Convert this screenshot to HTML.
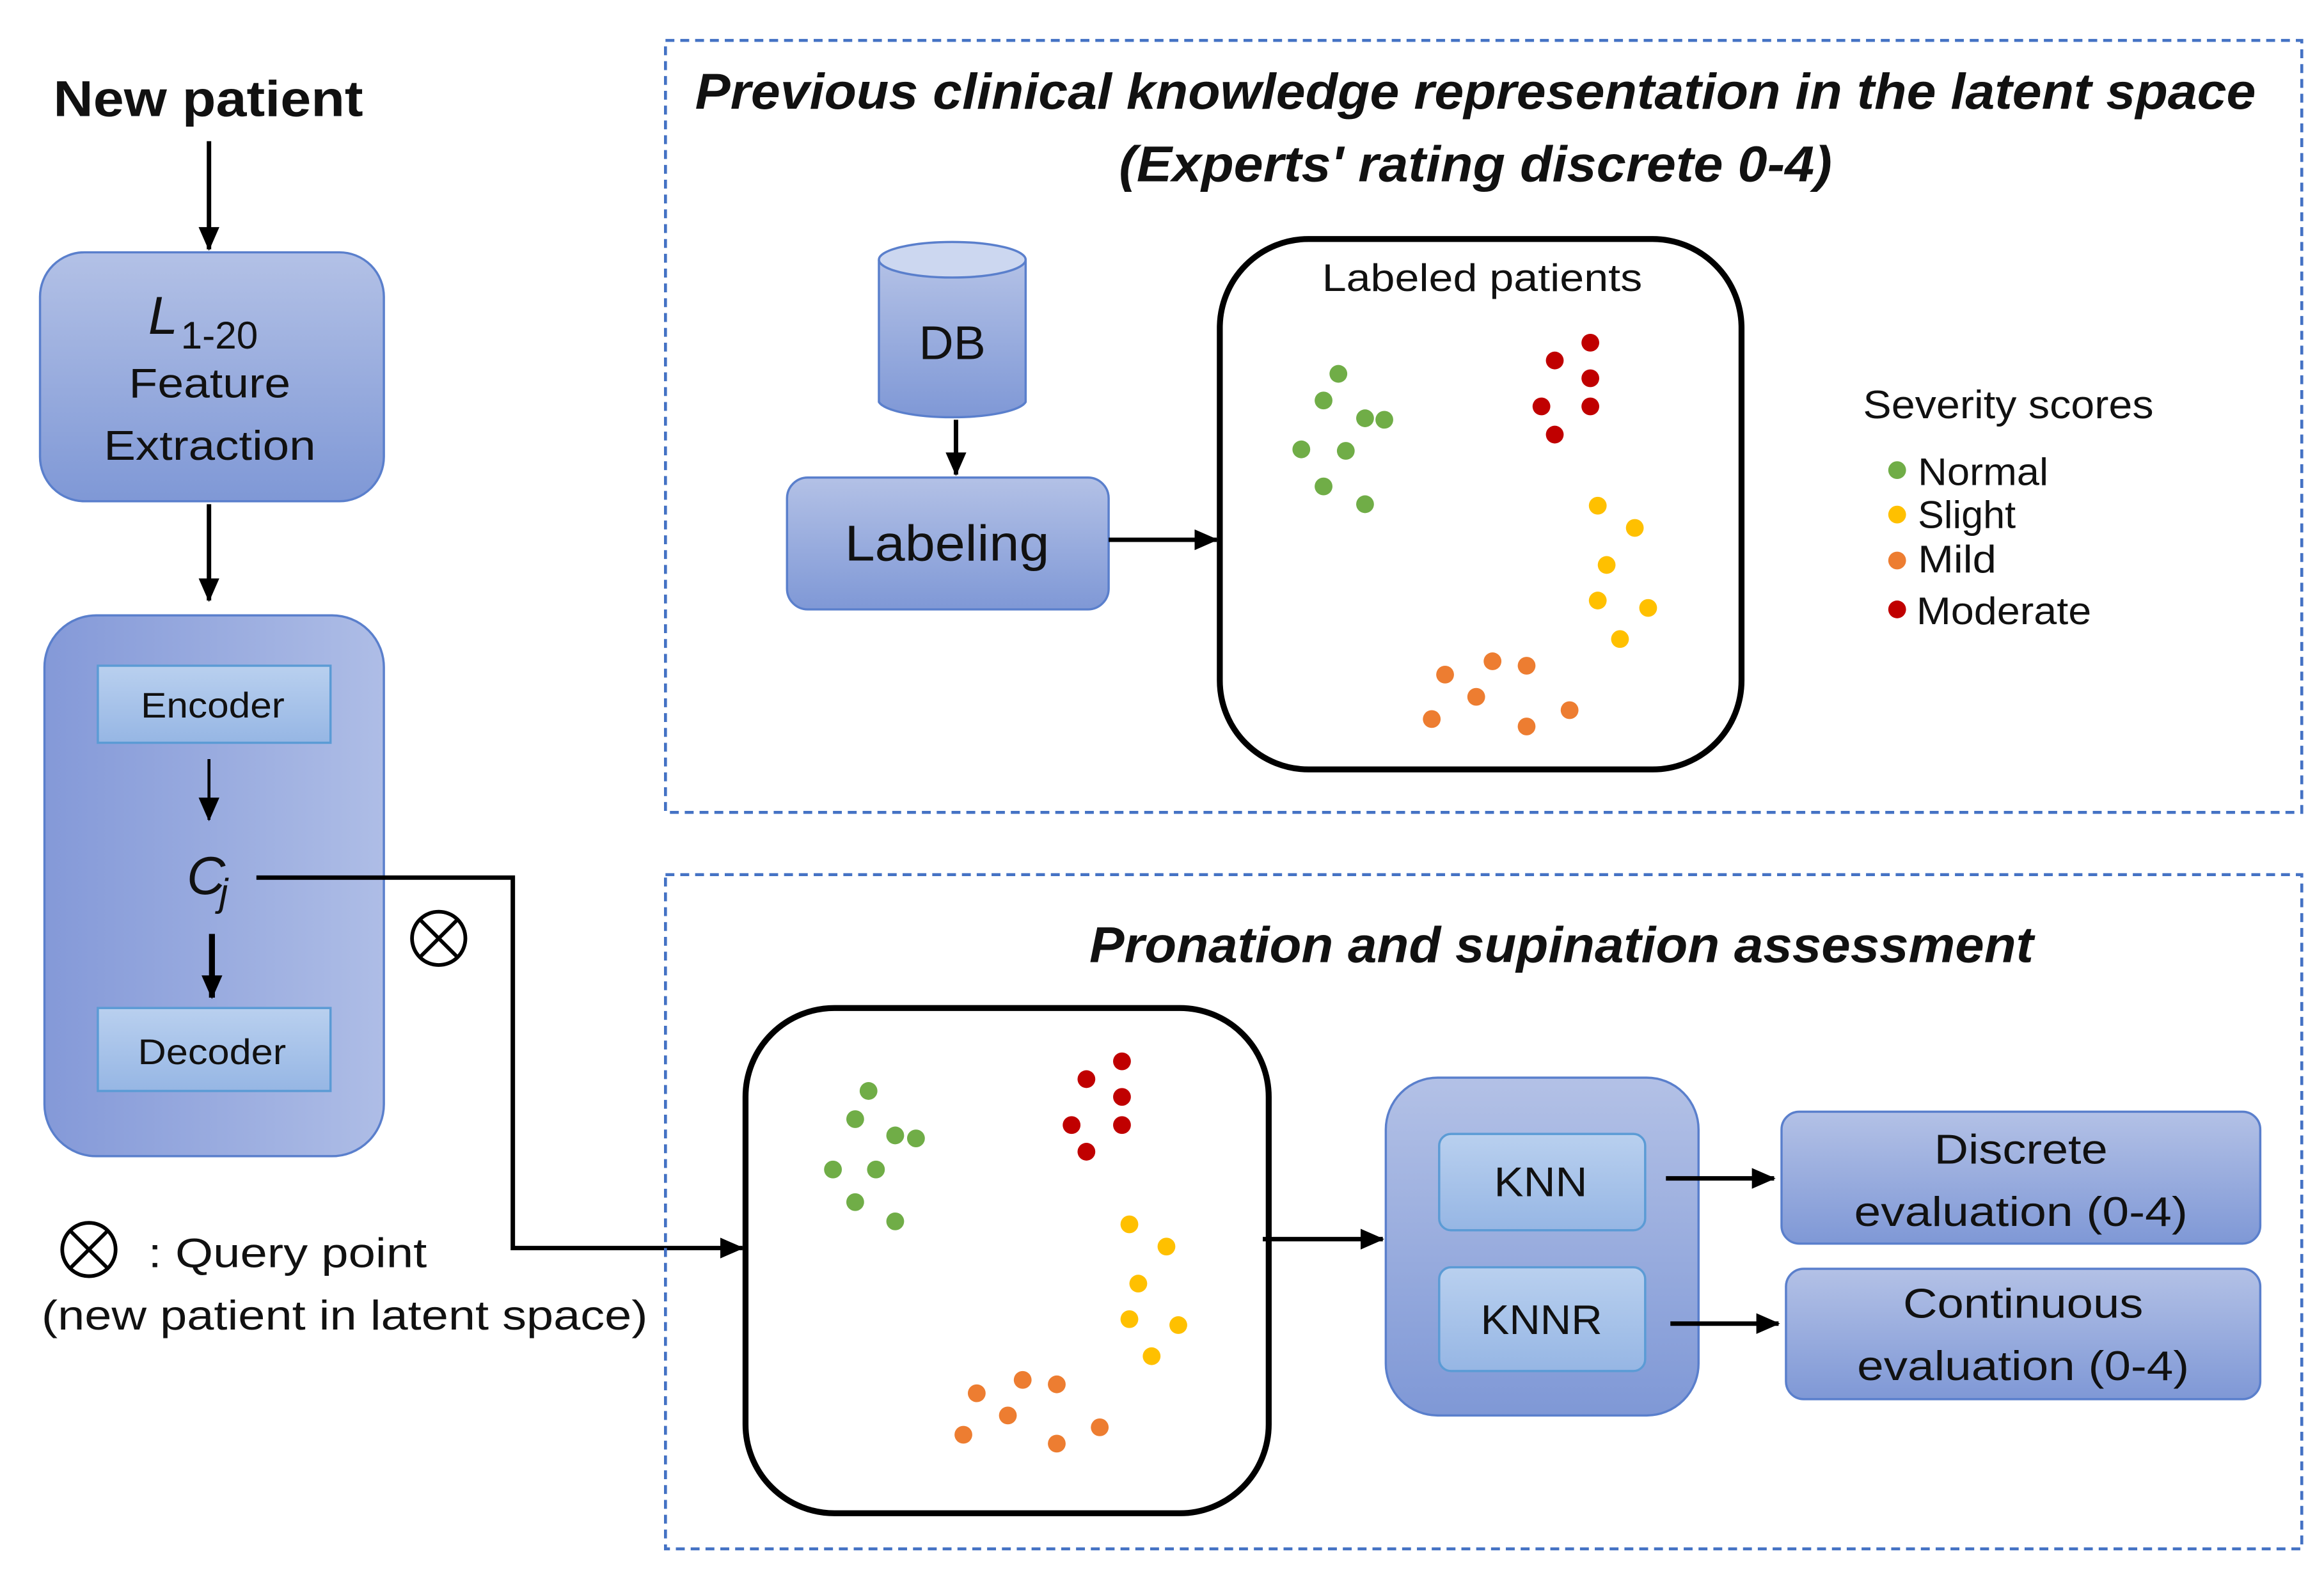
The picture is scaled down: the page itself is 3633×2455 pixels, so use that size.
<!DOCTYPE html>
<html><head><meta charset="utf-8"><style>
html,body{margin:0;padding:0;background:#fff;}
svg{display:block;}
text{font-family:"Liberation Sans","DejaVu Sans",sans-serif;fill:#111;}
</style></head><body>
<svg width="3633" height="2455" viewBox="0 0 1568 1059" xmlns="http://www.w3.org/2000/svg">
<defs>
<linearGradient id="g1" x1="0" y1="0" x2="0" y2="1"><stop offset="0" stop-color="#b3c1e6"/><stop offset="1" stop-color="#7f98d6"/></linearGradient>
<linearGradient id="g2" x1="0" y1="0" x2="1" y2="0"><stop offset="0" stop-color="#8499d8"/><stop offset="1" stop-color="#aebde6"/></linearGradient>
<linearGradient id="g3" x1="0" y1="0" x2="0" y2="1"><stop offset="0" stop-color="#b9d0ef"/><stop offset="1" stop-color="#96b6e4"/></linearGradient>
<marker id="ab" markerWidth="16" markerHeight="14" refX="15" refY="7" orient="auto" markerUnits="userSpaceOnUse"><path d="M0,0 L16,7 L0,14 z" fill="#000"/></marker>
</defs>

<text x="36" y="78" font-size="34" font-weight="bold" textLength="209" lengthAdjust="spacingAndGlyphs">New patient</text>
<line x1="141" y1="95" x2="141" y2="168" stroke="#000" stroke-width="3" marker-end="url(#ab)"/>
<rect x="27" y="170" width="232" height="168" rx="30" fill="url(#g1)" stroke="#5a7fcc" stroke-width="1.5"/>
<text x="100" y="225" font-size="36" font-style="italic" font-family="Liberation Serif,serif">L</text>
<text x="122" y="235" font-size="26" font-family="Liberation Serif,serif">1-20</text>
<text x="87" y="268" font-size="28" textLength="109" lengthAdjust="spacingAndGlyphs">Feature</text>
<text x="70" y="310" font-size="28" textLength="143" lengthAdjust="spacingAndGlyphs">Extraction</text>
<line x1="141" y1="340" x2="141" y2="405" stroke="#000" stroke-width="3" marker-end="url(#ab)"/>

<rect x="30" y="415" width="229" height="365" rx="35" fill="url(#g2)" stroke="#5a7fcc" stroke-width="1.5"/>
<rect x="66" y="449" width="157" height="52" fill="url(#g3)" stroke="#5b9bd5" stroke-width="1.5"/>
<text x="95" y="484" font-size="24" textLength="97" lengthAdjust="spacingAndGlyphs">Encoder</text>
<line x1="141" y1="512" x2="141" y2="553" stroke="#000" stroke-width="2" marker-end="url(#ab)"/>
<text x="126" y="603" font-size="36" font-style="italic" font-family="Liberation Serif,serif">C</text>
<text x="148" y="611" font-size="26" font-style="italic" font-family="Liberation Serif,serif">j</text>
<line x1="143" y1="630" x2="143" y2="673" stroke="#000" stroke-width="4" marker-end="url(#ab)"/>
<rect x="66" y="680" width="157" height="56" fill="url(#g3)" stroke="#5b9bd5" stroke-width="1.5"/>
<text x="93" y="718" font-size="24" textLength="100" lengthAdjust="spacingAndGlyphs">Decoder</text>

<polyline points="173,592 346,592 346,842 501,842" fill="none" stroke="#000" stroke-width="3" marker-end="url(#ab)"/>
<g stroke="#000" stroke-width="2.5" fill="none">
<circle cx="296" cy="633" r="18"/><line x1="283" y1="620" x2="309" y2="646"/><line x1="309" y1="620" x2="283" y2="646"/>
<circle cx="60" cy="843" r="18"/><line x1="47" y1="830" x2="73" y2="856"/><line x1="73" y1="830" x2="47" y2="856"/>
<circle cx="728" cy="833" r="18"/><line x1="715" y1="820" x2="741" y2="846"/><line x1="741" y1="820" x2="715" y2="846"/>
</g>
<text x="100" y="855" font-size="28" textLength="188" lengthAdjust="spacingAndGlyphs">: Query point</text>
<text x="28" y="897" font-size="28" textLength="409" lengthAdjust="spacingAndGlyphs">(new patient in latent space)</text>

<rect x="449" y="27" width="1104" height="521" fill="none" stroke="#4472c4" stroke-width="2" stroke-dasharray="6,4"/>
<text x="469" y="73" font-size="34" font-weight="bold" font-style="italic" textLength="1053" lengthAdjust="spacingAndGlyphs">Previous clinical knowledge representation in the latent space</text>
<text x="755" y="122" font-size="34" font-weight="bold" font-style="italic" textLength="481" lengthAdjust="spacingAndGlyphs">(Experts' rating discrete 0-4)</text>

<path d="M593,175 L593,271 A50,12 0 0 0 692,271 L692,175" fill="url(#g1)" stroke="#5a7fcc" stroke-width="1.5"/>
<ellipse cx="642.5" cy="175" rx="49.5" ry="12" fill="#ccd7f0" stroke="#5a7fcc" stroke-width="1.5"/>
<text x="620" y="242" font-size="32" textLength="45" lengthAdjust="spacingAndGlyphs">DB</text>
<line x1="645" y1="283" x2="645" y2="320" stroke="#000" stroke-width="3" marker-end="url(#ab)"/>
<rect x="531" y="322" width="217" height="89" rx="14" fill="url(#g1)" stroke="#5a7fcc" stroke-width="1.5"/>
<text x="570" y="378" font-size="34" textLength="138" lengthAdjust="spacingAndGlyphs">Labeling</text>
<line x1="748" y1="364" x2="821" y2="364" stroke="#000" stroke-width="3" marker-end="url(#ab)"/>

<rect x="823" y="161" width="352" height="358" rx="60" fill="#fff" stroke="#000" stroke-width="4"/>
<text x="892" y="196" font-size="26" textLength="216" lengthAdjust="spacingAndGlyphs">Labeled patients</text>
<g fill="#70ad47"><circle cx="903" cy="252" r="6"/><circle cx="893" cy="270" r="6"/><circle cx="921" cy="282" r="6"/><circle cx="934" cy="283" r="6"/><circle cx="878" cy="303" r="6"/><circle cx="908" cy="304" r="6"/><circle cx="893" cy="328" r="6"/><circle cx="921" cy="340" r="6"/></g>
<g fill="#c00000"><circle cx="1049" cy="243" r="6"/><circle cx="1073" cy="231" r="6"/><circle cx="1073" cy="255" r="6"/><circle cx="1040" cy="274" r="6"/><circle cx="1073" cy="274" r="6"/><circle cx="1049" cy="293" r="6"/></g>
<g fill="#ffc000"><circle cx="1078" cy="341" r="6"/><circle cx="1103" cy="356" r="6"/><circle cx="1084" cy="381" r="6"/><circle cx="1078" cy="405" r="6"/><circle cx="1112" cy="410" r="6"/><circle cx="1093" cy="431" r="6"/></g>
<g fill="#ed7d31"><circle cx="1007" cy="446" r="6"/><circle cx="1030" cy="449" r="6"/><circle cx="975" cy="455" r="6"/><circle cx="996" cy="470" r="6"/><circle cx="966" cy="485" r="6"/><circle cx="1030" cy="490" r="6"/><circle cx="1059" cy="479" r="6"/></g>

<text x="1257" y="282" font-size="27" textLength="196" lengthAdjust="spacingAndGlyphs">Severity scores</text>
<circle cx="1280" cy="317" r="6" fill="#70ad47"/><text x="1294" y="327" font-size="26" textLength="88" lengthAdjust="spacingAndGlyphs">Normal</text>
<circle cx="1280" cy="347" r="6" fill="#ffc000"/><text x="1294" y="356" font-size="26" textLength="66" lengthAdjust="spacingAndGlyphs">Slight</text>
<circle cx="1280" cy="378" r="6" fill="#ed7d31"/><text x="1294" y="386" font-size="26" textLength="53" lengthAdjust="spacingAndGlyphs">Mild</text>
<circle cx="1280" cy="411" r="6" fill="#c00000"/><text x="1293" y="421" font-size="26" textLength="118" lengthAdjust="spacingAndGlyphs">Moderate</text>

<rect x="449" y="590" width="1104" height="455" fill="none" stroke="#4472c4" stroke-width="2" stroke-dasharray="6,4"/>
<text x="735" y="649" font-size="34" font-weight="bold" font-style="italic" textLength="637" lengthAdjust="spacingAndGlyphs">Pronation and supination assessment</text>

<rect x="503" y="680" width="353" height="341" rx="60" fill="#fff" stroke="#000" stroke-width="4"/>
<g fill="#70ad47"><circle cx="586" cy="736" r="6"/><circle cx="577" cy="755" r="6"/><circle cx="604" cy="766" r="6"/><circle cx="618" cy="768" r="6"/><circle cx="562" cy="789" r="6"/><circle cx="591" cy="789" r="6"/><circle cx="577" cy="811" r="6"/><circle cx="604" cy="824" r="6"/></g>
<g fill="#c00000"><circle cx="733" cy="728" r="6"/><circle cx="757" cy="716" r="6"/><circle cx="757" cy="740" r="6"/><circle cx="723" cy="759" r="6"/><circle cx="757" cy="759" r="6"/><circle cx="733" cy="777" r="6"/></g>
<g fill="#ffc000"><circle cx="762" cy="826" r="6"/><circle cx="787" cy="841" r="6"/><circle cx="768" cy="866" r="6"/><circle cx="762" cy="890" r="6"/><circle cx="795" cy="894" r="6"/><circle cx="777" cy="915" r="6"/></g>
<g fill="#ed7d31"><circle cx="690" cy="931" r="6"/><circle cx="713" cy="934" r="6"/><circle cx="659" cy="940" r="6"/><circle cx="680" cy="955" r="6"/><circle cx="650" cy="968" r="6"/><circle cx="713" cy="974" r="6"/><circle cx="742" cy="963" r="6"/></g>

<line x1="852" y1="836" x2="933" y2="836" stroke="#000" stroke-width="3" marker-end="url(#ab)"/>
<rect x="935" y="727" width="211" height="228" rx="35" fill="url(#g1)" stroke="#5a7fcc" stroke-width="1.5"/>
<rect x="971" y="765" width="139" height="65" rx="8" fill="url(#g3)" stroke="#5b9bd5" stroke-width="1.5"/>
<text x="1008" y="807" font-size="28" textLength="63" lengthAdjust="spacingAndGlyphs">KNN</text>
<rect x="971" y="855" width="139" height="70" rx="8" fill="url(#g3)" stroke="#5b9bd5" stroke-width="1.5"/>
<text x="999" y="900" font-size="28" textLength="82" lengthAdjust="spacingAndGlyphs">KNNR</text>
<line x1="1124" y1="795" x2="1197" y2="795" stroke="#000" stroke-width="3" marker-end="url(#ab)"/>
<line x1="1127" y1="893" x2="1200" y2="893" stroke="#000" stroke-width="3" marker-end="url(#ab)"/>
<rect x="1202" y="750" width="323" height="89" rx="12" fill="url(#g1)" stroke="#5a7fcc" stroke-width="1.5"/>
<text x="1305" y="785" font-size="28" textLength="117" lengthAdjust="spacingAndGlyphs">Discrete</text>
<text x="1251" y="827" font-size="28" textLength="225" lengthAdjust="spacingAndGlyphs">evaluation (0-4)</text>
<rect x="1205" y="856" width="320" height="88" rx="12" fill="url(#g1)" stroke="#5a7fcc" stroke-width="1.5"/>
<text x="1284" y="889" font-size="28" textLength="162" lengthAdjust="spacingAndGlyphs">Continuous</text>
<text x="1253" y="931" font-size="28" textLength="224" lengthAdjust="spacingAndGlyphs">evaluation (0-4)</text>
</svg>
</body></html>
